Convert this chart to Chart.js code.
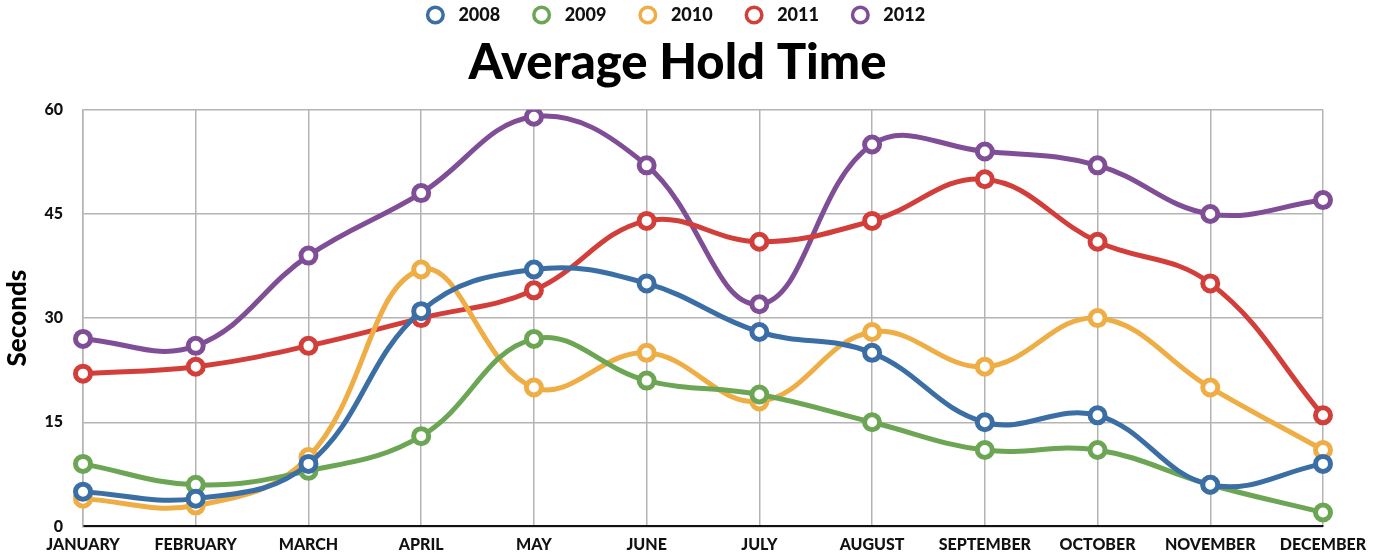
<!DOCTYPE html>
<html>
<head>
<meta charset="utf-8">
<script src="https://cdn.jsdelivr.net/npm/chart.js@4/dist/chart.umd.min.js"></script>
<style>
  html, body { margin: 0; padding: 0; background: #fff; }
  #wrap { width: 1377px; height: 556px; }
</style>
</head>
<body>
<div id="wrap"><canvas id="chart"></canvas></div>
<script>
const months = ['JANUARY', 'FEBRUARY', 'MARCH', 'APRIL', 'MAY', 'JUNE', 'JULY', 'AUGUST', 'SEPTEMBER', 'OCTOBER', 'NOVEMBER', 'DECEMBER'];
const years = ['2008', '2009', '2010', '2011', '2012'];

const hold2008 = [5, 4, 9, 31, 37, 35, 28, 25, 15, 16, 6, 9];
const hold2009 = [9, 6, 8, 13, 27, 21, 19, 15, 11, 11, 6, 2];
const hold2010 = [4, 3, 10, 37, 20, 25, 18, 28, 23, 30, 20, 11];
const hold2011 = [22, 23, 26, 30, 34, 44, 41, 44, 50, 41, 35, 16];
const hold2012 = [27, 26, 39, 48, 59, 52, 32, 55, 54, 52, 45, 47];

const yTicks = [0, 15, 30, 45, 60];
const colors = ['#3b6ea5', '#6ca655', '#efae45', '#d23f3b', '#7f4e97'];

const FONT = 'Lato, "DejaVu Sans", sans-serif';

const series = [hold2008, hold2009, hold2010, hold2011, hold2012];

const datasets = series.map((values, i) => ({
    label: years[i],
    data: values,
    borderColor: colors[i],
    backgroundColor: '#fff',
    pointBackgroundColor: '#fff',
    pointBorderColor: colors[i],
    borderWidth: 5,
    pointRadius: 7.5,
    pointBorderWidth: 5,
    tension: 0.4,
    fill: false,
}));

const ctx = document.getElementById('chart').getContext('2d');

new Chart(ctx, {
    type: 'line',
    data: { labels: months, datasets: datasets },
    options: {
        responsive: true,
        maintainAspectRatio: false,
        animation: false,
        // left padding keeps title + legend centred like the original
        layout: { padding: { left: 32, right: 54, top: 0, bottom: 0 } },
        plugins: {
            legend: {
                position: 'top',
                weight: 3000,
                labels: {
                    usePointStyle: true,
                    pointStyle: 'circle',
                    boxWidth: 11,
                    boxHeight: 11,
                    padding: 6,
                    color: '#111',
                    font: { family: FONT, size: 18, weight: 900 },
                    generateLabels: (chart) => chart.data.datasets.map((ds, i) => ({
                        // spaces give the wide gaps between the legend entries
                        text: '  ' + ds.label + (i < 4 ? '       ' : ''),
                        fillStyle: '#fff',
                        strokeStyle: ds.borderColor,
                        lineWidth: 3.5,
                        pointStyle: 'circle',
                        datasetIndex: i,
                        fontColor: '#111',
                    })),
                },
            },
            title: {
                display: true,
                text: 'Average Hold Time',
                color: '#000',
                font: { family: FONT, size: 49, weight: 900 },
                padding: { top: 0, bottom: 17 },
            },
            tooltip: { enabled: false },
        },
        scales: {
            x: {
                offset: false,
                grid: { color: '#b4b4b4', lineWidth: 1.5, drawTicks: false },
                border: { color: '#111', width: 2 },
                ticks: {
                    color: '#111',
                    padding: 9,
                    maxRotation: 0,
                    autoSkip: false,
                    font: { family: FONT, size: 16, weight: 900 },
                },
                afterFit: (scale) => { scale.height = 24; },
            },
            y: {
                min: 0,
                max: 60,
                afterBuildTicks: (scale) => { scale.ticks = yTicks.map(v => ({ value: v })); },
                grid: { color: '#b4b4b4', lineWidth: 1.5, drawTicks: false },
                border: { color: '#b4b4b4', width: 1.5 },
                ticks: {
                    color: '#111',
                    padding: 20,
                    font: { family: FONT, size: 16, weight: 900 },
                },
                title: {
                    display: true,
                    text: 'Seconds',
                    color: '#000',
                    padding: { top: -30, bottom: 0 },
                    font: { family: FONT, size: 26, weight: 900 },
                },
                afterFit: (scale) => { scale.width = 51; },
            },
        },
    },
});
</script>
</body>
</html>
